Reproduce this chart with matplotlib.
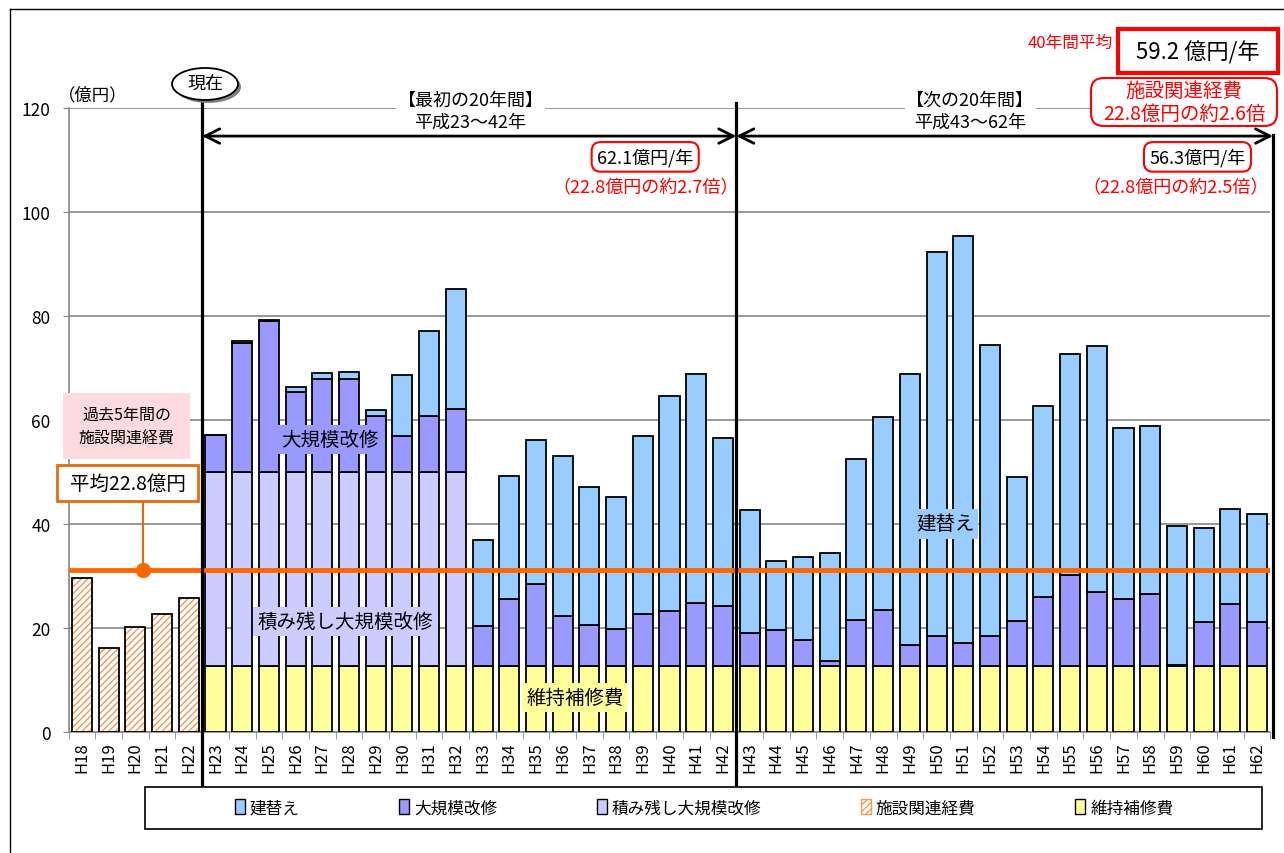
import numpy as np
import matplotlib.pyplot as plt
from matplotlib.patches import Rectangle, FancyBboxPatch, Ellipse, Patch
from matplotlib.lines import Line2D

plt.rcParams['font.family'] = ['Noto Sans CJK JP', 'DejaVu Sans']
plt.rcParams['hatch.linewidth'] = 1.0

# 年度 (H18-H22: 実績, H23-H62: 推計)
labels = ['H18', 'H19', 'H20', 'H21', 'H22',
          'H23', 'H24', 'H25', 'H26', 'H27', 'H28', 'H29', 'H30', 'H31', 'H32',
          'H33', 'H34', 'H35', 'H36', 'H37', 'H38', 'H39', 'H40', 'H41', 'H42',
          'H43', 'H44', 'H45', 'H46', 'H47', 'H48', 'H49', 'H50', 'H51', 'H52',
          'H53', 'H54', 'H55', 'H56', 'H57', 'H58', 'H59', 'H60', 'H61', 'H62']

# 施設関連経費 H18-H22 (億円)
facility = [29.7, 16.1, 20.1, 22.6, 25.8]

# H23-H62 (億円)
maint = [12.6] * 40                       # 維持補修費
residual = [37.4] * 10 + [0.0] * 30       # 積み残し大規模改修
large = [7.2, 24.9, 29.0, 15.4, 17.9, 17.9, 10.8, 6.9, 10.8, 12.2,
         7.8, 13.0, 15.9, 9.7, 7.9, 7.3, 10.1, 10.6, 12.2, 11.7,
         6.4, 7.0, 5.1, 1.0, 8.9, 10.9, 4.1, 5.9, 4.5, 5.9,
         8.7, 13.3, 17.5, 14.4, 13.0, 13.9, 0.3, 8.6, 12.0, 8.6]   # 大規模改修
rebuild = [0.0, 0.3, 0.3, 0.9, 1.1, 1.3, 1.1, 11.7, 16.4, 22.9,
           16.5, 23.7, 27.7, 30.8, 26.6, 25.3, 34.3, 41.4, 44.0, 32.3,
           23.6, 13.2, 15.9, 20.9, 31.0, 37.0, 52.1, 73.9, 78.3, 56.0,
           27.7, 36.7, 42.5, 47.3, 32.9, 32.3, 26.7, 18.1, 18.3, 20.7]  # 建替え

avg_line = 31.2

c_rebuild = '#99CCFF'
c_large = '#9999FF'
c_resid = '#CCCCFF'
c_maint = '#FFFF99'
c_orange = '#FF6600'
c_box = '#E36C09'
c_hatch = '#F39A55'

W, H = 1284, 854
def fx(px):
    return px / W
def fy(py):
    return 1 - py / H

fig = plt.figure(figsize=(12.84, 8.54), dpi=100)
ax = fig.add_axes([fx(68.6), fy(733), (1270.4 - 68.6) / W, (733 - 109) / H])

x = np.arange(len(labels))
xf = x[:5]
xn = x[5:]
bw = 0.75

# 施設関連経費 (ハッチ)
ax.bar(xf, facility, bw, color='white', edgecolor=c_hatch, hatch='/////', lw=0, zorder=3)
ax.bar(xf, facility, bw, fill=False, edgecolor='black', lw=1.3, zorder=3)

maint = np.array(maint)
residual = np.array(residual)
large = np.array(large)
rebuild = np.array(rebuild)
ax.bar(xn, maint, bw, color=c_maint, edgecolor='black', lw=1.3, zorder=3)
ax.bar(xn, residual, bw, bottom=maint, color=c_resid, edgecolor='black', lw=1.3, zorder=3)
ax.bar(xn, large, bw, bottom=maint + residual, color=c_large, edgecolor='black', lw=1.3, zorder=3)
ax.bar(xn, rebuild, bw, bottom=maint + residual + large, color=c_rebuild, edgecolor='black', lw=1.3, zorder=3)

ax.set_xlim(-0.5, len(labels) - 0.5)
ax.set_ylim(0, 120)
ax.set_yticks(np.arange(0, 121, 20))
ax.tick_params(axis='y', labelsize=12.5, length=4, color='#888888', pad=9)
ax.set_xticks(x, labels, rotation=90, fontsize=12)
ax.set_xticks(np.arange(-0.5, len(labels), 1), minor=True)
ax.tick_params(axis='x', which='major', length=0, pad=7)
ax.tick_params(axis='x', which='minor', length=5, color='#888888')
ax.grid(axis='y', color='#888888', lw=1.2, zorder=0)
ax.set_axisbelow(True)
for s in ['top', 'right']:
    ax.spines[s].set_visible(False)
ax.spines['left'].set_color('#888888')
ax.spines['bottom'].set_color('#888888')
ax.spines['left'].set_linewidth(1.2)
ax.spines['bottom'].set_linewidth(1.2)

# 平均線
ax.axhline(avg_line, color=c_orange, lw=3.5, zorder=5)
ax.plot([2.29], [avg_line], 'o', color=c_orange, ms=10, zorder=6)

# 区切り線と矢印
ax.plot([4.5, 4.5], [-10.6, 121.7], color='black', lw=2.3, clip_on=False, zorder=6)
ax.plot([24.5, 24.5], [-10.6, 121.0], color='black', lw=2.3, clip_on=False, zorder=6)
ax.plot([44.6, 44.6], [-1.0, 114.9], color='black', lw=2.3, clip_on=False, zorder=6)
for a, b in [(4.5, 24.5), (24.5, 44.6)]:
    ax.annotate('', xy=(a, 114.6), xytext=(b, 114.6),
                arrowprops=dict(arrowstyle='<->', lw=2, color='black',
                                shrinkA=0, shrinkB=0, mutation_scale=26), zorder=6)

# 区間ラベル
ax.text(14.55, 121.6, '【最初の20年間】', ha='center', va='center', fontsize=13,
        bbox=dict(fc='white', ec='none', pad=1), clip_on=False, zorder=7)
ax.text(14.55, 117.3, '平成23～42年', ha='center', va='center', fontsize=13,
        bbox=dict(fc='white', ec='none', pad=1), clip_on=False, zorder=7)
ax.text(33.26, 121.6, '【次の20年間】', ha='center', va='center', fontsize=13,
        bbox=dict(fc='white', ec='none', pad=1), clip_on=False, zorder=7)
ax.text(33.26, 117.3, '平成43～62年', ha='center', va='center', fontsize=13,
        bbox=dict(fc='white', ec='none', pad=1), clip_on=False, zorder=7)

ax.text(21.09, 110.6, '62.1億円/年', ha='center', va='center', fontsize=13, zorder=7,
        bbox=dict(boxstyle='round,pad=0.3,rounding_size=0.5', fc='white', ec='red', lw=1.5))
ax.text(21.09, 104.8, '（22.8億円の約2.7倍）', ha='center', va='center', fontsize=13,
        color='red', zorder=7)
ax.text(41.77, 110.6, '56.3億円/年', ha='center', va='center', fontsize=13, zorder=7,
        bbox=dict(boxstyle='round,pad=0.3,rounding_size=0.5', fc='white', ec='red', lw=1.5))
ax.text(40.94, 104.8, '（22.8億円の約2.5倍）', ha='center', va='center', fontsize=13,
        color='red', zorder=7)

# 系列ラベル
ax.text(9.29, 56.2, '大規模改修', ha='center', va='center', fontsize=14, zorder=7,
        bbox=dict(fc=c_large, ec='none', pad=3))
ax.text(9.86, 21.2, '積み残し大規模改修', ha='center', va='center', fontsize=14, zorder=7,
        bbox=dict(fc=c_resid, ec='none', pad=3))
ax.text(18.47, 6.7, '維持補修費', ha='center', va='center', fontsize=14, zorder=7,
        bbox=dict(fc=c_maint, ec='none', pad=3))
ax.text(32.32, 40.0, '建替え', ha='center', va='center', fontsize=14, zorder=7,
        bbox=dict(fc=c_rebuild, ec='none', pad=3))

# 左側の注記
fig.text(fx(93), fy(95), '（億円）', ha='center', va='center', fontsize=12.5)
fig.add_artist(Rectangle((fx(63), fy(460)), 127 / W, 66 / H, transform=fig.transFigure,
                         fc='#FFDADF', ec='none', zorder=8))
fig.text(fx(126.5), fy(427), '過去5年間の\n施設関連経費', ha='center', va='center',
         fontsize=11.5, linespacing=1.5, zorder=9)
fig.add_artist(Line2D([fx(143), fx(143)], [fy(502), fy(571)], transform=fig.transFigure,
                      color=c_box, lw=1.5, zorder=8))
fig.add_artist(Rectangle((fx(57), fy(502)), 141 / W, 36 / H, transform=fig.transFigure,
                         fc='white', ec=c_box, lw=2, zorder=8))
fig.text(fx(127.5), fy(484), '平均22.8億円', ha='center', va='center', fontsize=14, zorder=9)

# 現在
fig.add_artist(Ellipse((fx(208), fy(88)), 66 / W, 32 / H, transform=fig.transFigure,
                       fc='#7f7f7f', ec='none', zorder=8))
fig.add_artist(Ellipse((fx(205), fy(85)), 66 / W, 32 / H, transform=fig.transFigure,
                       fc='white', ec='black', lw=1.3, zorder=9))
fig.text(fx(205), fy(85), '現在', ha='center', va='center', fontsize=13, zorder=10)

# 右上の注記
fig.text(fx(1113), fy(43), '40年間平均', ha='right', va='center', color='red', fontsize=12)
fig.add_artist(Rectangle((fx(1118), fy(74)), 160 / W, 44 / H, transform=fig.transFigure,
                         fc='white', ec='red', lw=3, zorder=8))
fig.text(fx(1198), fy(53), '59.2 億円/年', ha='center', va='center', fontsize=16, zorder=9)
fig.add_artist(FancyBboxPatch((fx(1091), fy(127)), 186 / W, 48 / H, transform=fig.transFigure,
                              boxstyle='round,pad=0,rounding_size=0.01',
                              mutation_aspect=W / H, fc='white', ec='red', lw=1.5, zorder=8))
fig.text(fx(1184), fy(103), '施設関連経費\n22.8億円の約2.6倍', ha='center', va='center',
         color='red', fontsize=14, linespacing=1.15, zorder=9)

# 外枠
fig.add_artist(Line2D([fx(10), fx(10)], [0, fy(10)], transform=fig.transFigure, color='black', lw=1))
fig.add_artist(Line2D([fx(10), 1], [fy(10), fy(10)], transform=fig.transFigure, color='black', lw=1))

# 凡例
fig.add_artist(Rectangle((fx(145), fy(830)), (1262 - 145) / W, 42 / H, transform=fig.transFigure,
                         fc='white', ec='black', lw=1.2, zorder=8))
handles = [Patch(fc=c_rebuild, ec='black'), Patch(fc=c_large, ec='black'),
           Patch(fc=c_resid, ec='black'), Patch(fc='white', ec=c_hatch, hatch='/////'),
           Patch(fc=c_maint, ec='black')]
names = ['建替え', '大規模改修', '積み残し大規模改修', '施設関連経費', '維持補修費']
leg = fig.legend(handles, names, loc='center', ncol=5, mode='expand', frameon=False,
                 bbox_to_anchor=(fx(228), fy(830), (1180 - 228) / W, 42 / H),
                 fontsize=12, handlelength=0.6, handleheight=1.0, handletextpad=0.3,
                 borderaxespad=0)
leg.set_zorder(9)

fig.savefig('out.png', dpi=100)
